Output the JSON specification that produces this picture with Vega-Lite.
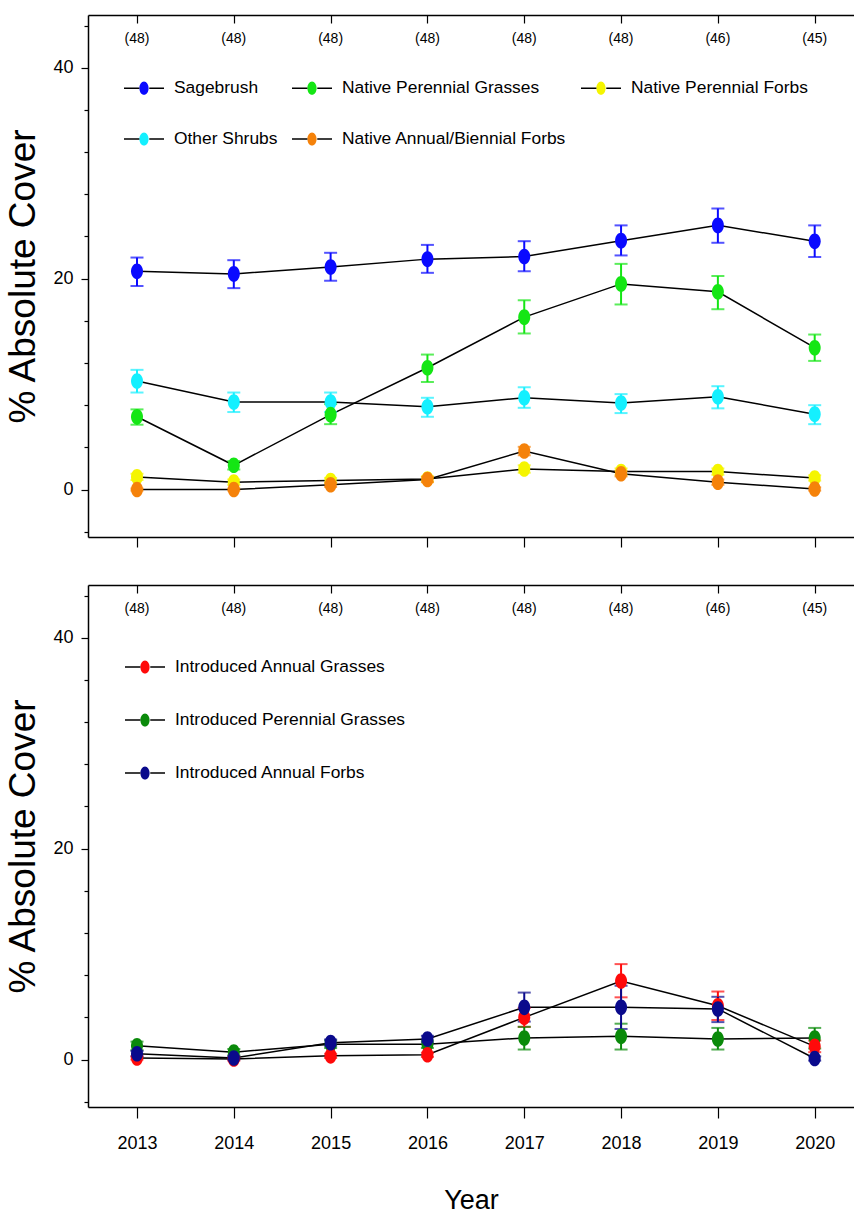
{
  "$schema": "https://vega.github.io/schema/vega-lite/v6.json",
  "usermeta": {"embedOptions": {"actions": false}},
  "background": "white",
  "padding": {"left": 4, "top": 14, "right": 0, "bottom": 0},
  "config": {
    "view": {"stroke": null},
    "font": "Liberation Sans, Arial, sans-serif",
    "axis": {"grid": false, "domainColor": "black", "domainWidth": 1.5, "tickColor": "black", "tickWidth": 1.2, "labelColor": "black", "titleColor": "black"},
    "legend": {"padding": 0}
  },
  "datasets": {
    "native": [
      {"series": "Sagebrush", "year": 2013, "mean": 20.7, "lo": 19.3, "hi": 22.0},
      {"series": "Sagebrush", "year": 2014, "mean": 20.45, "lo": 19.1, "hi": 21.75},
      {"series": "Sagebrush", "year": 2015, "mean": 21.1, "lo": 19.8, "hi": 22.45},
      {"series": "Sagebrush", "year": 2016, "mean": 21.85, "lo": 20.55, "hi": 23.2},
      {"series": "Sagebrush", "year": 2017, "mean": 22.1, "lo": 20.7, "hi": 23.55},
      {"series": "Sagebrush", "year": 2018, "mean": 23.6, "lo": 22.2, "hi": 25.05},
      {"series": "Sagebrush", "year": 2019, "mean": 25.05, "lo": 23.4, "hi": 26.65},
      {"series": "Sagebrush", "year": 2020, "mean": 23.55, "lo": 22.05, "hi": 25.05},
      {"series": "Other Shrubs", "year": 2013, "mean": 10.3, "lo": 9.2, "hi": 11.35},
      {"series": "Other Shrubs", "year": 2014, "mean": 8.3, "lo": 7.35, "hi": 9.2},
      {"series": "Other Shrubs", "year": 2015, "mean": 8.3, "lo": 7.35, "hi": 9.2},
      {"series": "Other Shrubs", "year": 2016, "mean": 7.85, "lo": 6.9, "hi": 8.7},
      {"series": "Other Shrubs", "year": 2017, "mean": 8.7, "lo": 7.75, "hi": 9.7},
      {"series": "Other Shrubs", "year": 2018, "mean": 8.2, "lo": 7.25, "hi": 9.05},
      {"series": "Other Shrubs", "year": 2019, "mean": 8.8, "lo": 7.7, "hi": 9.8},
      {"series": "Other Shrubs", "year": 2020, "mean": 7.15, "lo": 6.2, "hi": 8.0},
      {"series": "Native Perennial Forbs", "year": 2013, "mean": 1.2, "lo": 0.9, "hi": 1.5},
      {"series": "Native Perennial Forbs", "year": 2014, "mean": 0.7, "lo": 0.45, "hi": 0.95},
      {"series": "Native Perennial Forbs", "year": 2015, "mean": 0.85, "lo": 0.6, "hi": 1.1},
      {"series": "Native Perennial Forbs", "year": 2016, "mean": 1.0, "lo": 0.75, "hi": 1.25},
      {"series": "Native Perennial Forbs", "year": 2017, "mean": 1.95, "lo": 1.6, "hi": 2.3},
      {"series": "Native Perennial Forbs", "year": 2018, "mean": 1.7, "lo": 1.4, "hi": 2.0},
      {"series": "Native Perennial Forbs", "year": 2019, "mean": 1.7, "lo": 1.4, "hi": 2.0},
      {"series": "Native Perennial Forbs", "year": 2020, "mean": 1.1, "lo": 0.85, "hi": 1.35},
      {"series": "Native Perennial Grasses", "year": 2013, "mean": 6.9, "lo": 6.15, "hi": 7.6},
      {"series": "Native Perennial Grasses", "year": 2014, "mean": 2.3, "lo": 1.9, "hi": 2.7},
      {"series": "Native Perennial Grasses", "year": 2015, "mean": 7.1, "lo": 6.2, "hi": 8.1},
      {"series": "Native Perennial Grasses", "year": 2016, "mean": 11.55, "lo": 10.2, "hi": 12.8},
      {"series": "Native Perennial Grasses", "year": 2017, "mean": 16.35, "lo": 14.8, "hi": 17.95},
      {"series": "Native Perennial Grasses", "year": 2018, "mean": 19.5, "lo": 17.55, "hi": 21.4},
      {"series": "Native Perennial Grasses", "year": 2019, "mean": 18.75, "lo": 17.1, "hi": 20.25},
      {"series": "Native Perennial Grasses", "year": 2020, "mean": 13.45, "lo": 12.2, "hi": 14.7},
      {"series": "Native Annual/Biennial Forbs", "year": 2013, "mean": 0.0, "lo": -0.1, "hi": 0.1},
      {"series": "Native Annual/Biennial Forbs", "year": 2014, "mean": 0.0, "lo": -0.1, "hi": 0.1},
      {"series": "Native Annual/Biennial Forbs", "year": 2015, "mean": 0.45, "lo": 0.25, "hi": 0.65},
      {"series": "Native Annual/Biennial Forbs", "year": 2016, "mean": 0.95, "lo": 0.7, "hi": 1.2},
      {"series": "Native Annual/Biennial Forbs", "year": 2017, "mean": 3.65, "lo": 3.25, "hi": 4.05},
      {"series": "Native Annual/Biennial Forbs", "year": 2018, "mean": 1.5, "lo": 1.25, "hi": 1.75},
      {"series": "Native Annual/Biennial Forbs", "year": 2019, "mean": 0.7, "lo": 0.45, "hi": 0.95},
      {"series": "Native Annual/Biennial Forbs", "year": 2020, "mean": 0.05, "lo": -0.1, "hi": 0.2}
    ],
    "introduced": [
      {"series": "Introduced Perennial Grasses", "year": 2013, "mean": 1.3, "lo": 0.9, "hi": 1.7},
      {"series": "Introduced Perennial Grasses", "year": 2014, "mean": 0.7, "lo": 0.4, "hi": 1.0},
      {"series": "Introduced Perennial Grasses", "year": 2015, "mean": 1.45, "lo": 1.1, "hi": 1.8},
      {"series": "Introduced Perennial Grasses", "year": 2016, "mean": 1.45, "lo": 1.1, "hi": 1.8},
      {"series": "Introduced Perennial Grasses", "year": 2017, "mean": 2.05, "lo": 0.95, "hi": 3.1},
      {"series": "Introduced Perennial Grasses", "year": 2018, "mean": 2.2, "lo": 0.95, "hi": 3.4},
      {"series": "Introduced Perennial Grasses", "year": 2019, "mean": 1.95, "lo": 0.95, "hi": 3.0},
      {"series": "Introduced Perennial Grasses", "year": 2020, "mean": 2.05, "lo": 1.05, "hi": 3.0},
      {"series": "Introduced Annual Grasses", "year": 2013, "mean": 0.15, "lo": 0.0, "hi": 0.3},
      {"series": "Introduced Annual Grasses", "year": 2014, "mean": 0.05, "lo": -0.1, "hi": 0.2},
      {"series": "Introduced Annual Grasses", "year": 2015, "mean": 0.35, "lo": 0.15, "hi": 0.55},
      {"series": "Introduced Annual Grasses", "year": 2016, "mean": 0.45, "lo": 0.25, "hi": 0.65},
      {"series": "Introduced Annual Grasses", "year": 2017, "mean": 4.0, "lo": 3.1, "hi": 4.9},
      {"series": "Introduced Annual Grasses", "year": 2018, "mean": 7.45, "lo": 5.9, "hi": 9.05},
      {"series": "Introduced Annual Grasses", "year": 2019, "mean": 5.1, "lo": 3.75, "hi": 6.45},
      {"series": "Introduced Annual Grasses", "year": 2020, "mean": 1.25, "lo": 0.7, "hi": 1.8},
      {"series": "Introduced Annual Forbs", "year": 2013, "mean": 0.55, "lo": 0.3, "hi": 0.8},
      {"series": "Introduced Annual Forbs", "year": 2014, "mean": 0.15, "lo": 0.0, "hi": 0.3},
      {"series": "Introduced Annual Forbs", "year": 2015, "mean": 1.6, "lo": 1.3, "hi": 1.9},
      {"series": "Introduced Annual Forbs", "year": 2016, "mean": 1.95, "lo": 1.65, "hi": 2.25},
      {"series": "Introduced Annual Forbs", "year": 2017, "mean": 4.95, "lo": 3.6, "hi": 6.35},
      {"series": "Introduced Annual Forbs", "year": 2018, "mean": 4.95, "lo": 2.9, "hi": 7.0},
      {"series": "Introduced Annual Forbs", "year": 2019, "mean": 4.8, "lo": 3.55, "hi": 5.95},
      {"series": "Introduced Annual Forbs", "year": 2020, "mean": 0.1, "lo": -0.1, "hi": 0.3}
    ],
    "counts": [
      {"year": 2013, "n": "(48)"},
      {"year": 2014, "n": "(48)"},
      {"year": 2015, "n": "(48)"},
      {"year": 2016, "n": "(48)"},
      {"year": 2017, "n": "(48)"},
      {"year": 2018, "n": "(48)"},
      {"year": 2019, "n": "(46)"},
      {"year": 2020, "n": "(45)"}
    ]
  },
  "vconcat": [
    {
      "width": 766,
      "height": 522,
      "layer": [
        {
          "data": {"name": "native"},
          "mark": {"type": "line", "strokeWidth": 1.5, "color": "black"},
          "encoding": {
            "x": {"field": "year", "type": "quantitative", "scale": {"domain": [2012.494, 2020.406], "nice": false, "zero": false},
                  "axis": {"orient": "bottom", "values": [2013, 2014, 2015, 2016, 2017, 2018, 2019, 2020], "labels": false, "tickSize": 10, "title": null}},
            "y": {"field": "mean", "type": "quantitative", "title": "% Absolute Cover", "scale": {"domain": [-4.5, 45], "nice": false, "zero": false},
                  "axis": {"values": [-4, -2, 0, 2, 4, 6, 8, 10, 12, 14, 16, 18, 20, 22, 24, 26, 28, 30, 32, 34, 36, 38, 40, 42, 44],
                           "labelExpr": "datum.value % 10 === 0 ? datum.label : ''",
                           "tickSize": {"condition": {"test": "datum.value % 10 === 0", "value": 7}, "value": 4},
                           "labelFontSize": 18, "labelPadding": 8,
                           "titleFontSize": 37, "titleFontWeight": "normal", "titlePadding": 10}},
            "detail": {"field": "series"}
          }
        },
        {
          "data": {"name": "native"},
          "mark": {"type": "errorbar", "ticks": {"size": 13, "thickness": 2}, "rule": {"strokeWidth": 2}},
          "encoding": {
            "x": {"field": "year", "type": "quantitative", "axis": null},
            "y": {"field": "lo", "type": "quantitative", "title": "% Absolute Cover"},
            "y2": {"field": "hi"},
            "color": {"field": "series", "type": "nominal",
                      "scale": {"domain": ["Sagebrush", "Native Perennial Grasses", "Native Perennial Forbs", "Other Shrubs", "Native Annual/Biennial Forbs"], "range": ["#0a0aff", "#14e614", "#f5f500", "#14f0ff", "#f5820a"]},
                      "legend": null}
          }
        },
        {
          "data": {"name": "native"},
          "mark": {"type": "point", "filled": true, "opacity": 1, "size": 144, "shape": "M-1,0A1,1.3 0 1,0 1,0A1,1.3 0 1,0 -1,0Z"},
          "encoding": {
            "x": {"field": "year", "type": "quantitative", "axis": null},
            "y": {"field": "mean", "type": "quantitative", "title": "% Absolute Cover"},
            "color": {"field": "series", "type": "nominal",
                      "scale": {"domain": ["Sagebrush", "Native Perennial Grasses", "Native Perennial Forbs", "Other Shrubs", "Native Annual/Biennial Forbs"], "range": ["#0a0aff", "#14e614", "#f5f500", "#14f0ff", "#f5820a"]},
                      "legend": {"orient": "none", "legendX": 35, "legendY": 52, "columns": 3, "direction": "horizontal", "title": null,
                                 "symbolType": "M-1,0H-0.23A0.23,0.33 0 0,0 0.23,0A0.23,0.33 0 0,0 -0.23,0A0.23,0.33 0 0,0 0.23,0H1",
                                 "symbolSize": 1600, "symbolStrokeWidth": 1.5, "symbolOpacity": 1, "symbolDash": [15.4, 53.2, 15.4, 2000],
                                 "encode": {"symbols": {"update": {"stroke": {"value": "black"}, "strokeWidth": {"value": 1.5}}}},
                                 "labelFontSize": 17.4, "labelOffset": 9, "labelColor": "black", "labelLimit": 400, "columnPadding": 11, "rowPadding": 20}}
          }
        },
        {
          "data": {"name": "counts"},
          "mark": {"type": "text", "fontSize": 14, "baseline": "middle", "color": "black"},
          "encoding": {
            "x": {"field": "year", "type": "quantitative",
                  "axis": {"orient": "top", "values": [2013, 2014, 2015, 2016, 2017, 2018, 2019, 2020], "labels": false, "tickSize": -8, "title": null}},
            "y": {"datum": 42.7},
            "text": {"field": "n"}
          }
        }
      ],
      "resolve": {"scale": {"color": "independent"}, "axis": {"x": "independent"}}
    },
    {
      "width": 766,
      "height": 522,
      "layer": [
        {
          "data": {"name": "introduced"},
          "mark": {"type": "line", "strokeWidth": 1.5, "color": "black"},
          "encoding": {
            "x": {"field": "year", "type": "quantitative", "scale": {"domain": [2012.494, 2020.406], "nice": false, "zero": false},
                  "axis": {"orient": "bottom", "values": [2013, 2014, 2015, 2016, 2017, 2018, 2019, 2020], "format": "d", "tickSize": 11,
                           "labelFontSize": 18, "labelPadding": 16, "title": "Year", "titleFontSize": 27, "titleFontWeight": "normal", "titlePadding": 35}},
            "y": {"field": "mean", "type": "quantitative", "title": "% Absolute Cover", "scale": {"domain": [-4.5, 45], "nice": false, "zero": false},
                  "axis": {"values": [-4, -2, 0, 2, 4, 6, 8, 10, 12, 14, 16, 18, 20, 22, 24, 26, 28, 30, 32, 34, 36, 38, 40, 42, 44],
                           "labelExpr": "datum.value % 10 === 0 ? datum.label : ''",
                           "tickSize": {"condition": {"test": "datum.value % 10 === 0", "value": 7}, "value": 4},
                           "labelFontSize": 18, "labelPadding": 8,
                           "titleFontSize": 37, "titleFontWeight": "normal", "titlePadding": 10}},
            "detail": {"field": "series"}
          }
        },
        {
          "data": {"name": "introduced"},
          "mark": {"type": "errorbar", "ticks": {"size": 13, "thickness": 2}, "rule": {"strokeWidth": 2}},
          "encoding": {
            "x": {"field": "year", "type": "quantitative", "axis": null},
            "y": {"field": "lo", "type": "quantitative", "title": "% Absolute Cover"},
            "y2": {"field": "hi"},
            "color": {"field": "series", "type": "nominal",
                      "scale": {"domain": ["Introduced Annual Grasses", "Introduced Perennial Grasses", "Introduced Annual Forbs"], "range": ["#ff0a0a", "#0a8a0a", "#0a0a8c"]},
                      "legend": null}
          }
        },
        {
          "data": {"name": "introduced"},
          "mark": {"type": "point", "filled": true, "opacity": 1, "size": 144, "shape": "M-1,0A1,1.3 0 1,0 1,0A1,1.3 0 1,0 -1,0Z"},
          "encoding": {
            "x": {"field": "year", "type": "quantitative", "axis": null},
            "y": {"field": "mean", "type": "quantitative", "title": "% Absolute Cover"},
            "color": {"field": "series", "type": "nominal",
                      "scale": {"domain": ["Introduced Annual Grasses", "Introduced Perennial Grasses", "Introduced Annual Forbs"], "range": ["#ff0a0a", "#0a8a0a", "#0a0a8c"]},
                      "legend": {"orient": "none", "legendX": 36, "legendY": 61, "columns": 1, "direction": "vertical", "title": null,
                                 "symbolType": "M-1,0H-0.23A0.23,0.33 0 0,0 0.23,0A0.23,0.33 0 0,0 -0.23,0A0.23,0.33 0 0,0 0.23,0H1",
                                 "symbolSize": 1600, "symbolStrokeWidth": 1.5, "symbolOpacity": 1, "symbolDash": [15.4, 53.2, 15.4, 2000],
                                 "encode": {"symbols": {"update": {"stroke": {"value": "black"}, "strokeWidth": {"value": 1.5}}}},
                                 "labelFontSize": 17.4, "labelOffset": 9, "labelColor": "black", "labelLimit": 400, "rowPadding": 22}}
          }
        },
        {
          "data": {"name": "counts"},
          "mark": {"type": "text", "fontSize": 14, "baseline": "middle", "color": "black"},
          "encoding": {
            "x": {"field": "year", "type": "quantitative",
                  "axis": {"orient": "top", "values": [2013, 2014, 2015, 2016, 2017, 2018, 2019, 2020], "labels": false, "tickSize": -8, "title": null}},
            "y": {"datum": 42.7},
            "text": {"field": "n"}
          }
        }
      ],
      "resolve": {"scale": {"color": "independent"}, "axis": {"x": "independent"}}
    }
  ],
  "spacing": 48,
  "bounds": "flush"
}
